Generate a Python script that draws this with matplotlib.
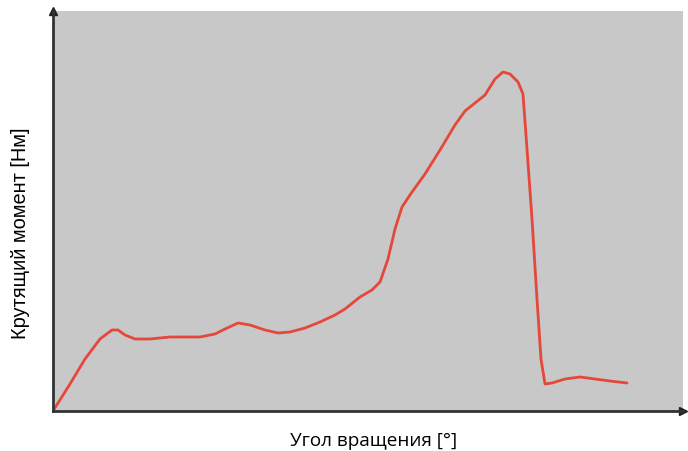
import matplotlib
matplotlib.use('Agg')
import matplotlib.pyplot as plt

# Кривая крутящего момента (единицы условные)
ugol = [0, 17, 32, 47, 59, 65, 72, 82, 97, 117, 147, 162, 172, 185, 197, 212,
        225, 237, 252, 267, 282, 292, 307, 319, 327, 335, 342, 349, 359, 372,
        387, 402, 412, 422, 432, 442, 450, 457, 465, 470, 474, 479, 484, 488,
        492, 499, 512, 527, 542, 557, 574]
moment = [0, 27, 52, 72, 81, 81, 76, 72, 72, 74, 74, 77, 82, 88, 86, 81,
          78, 79, 83, 89, 96, 102, 114, 121, 129, 152, 182, 204, 219, 237,
          261, 286, 300, 308, 316, 332, 339, 337, 329, 317, 262, 192, 112, 52,
          27, 28, 32, 34, 32, 30, 28]

fig = plt.figure(figsize=(6.88, 4.52), dpi=100)
ax = fig.add_axes([53 / 688, 40 / 452, 630 / 688, 400 / 452])
ax.set_facecolor('#c8c8c8')

ax.plot(ugol, moment, color='#e5473b', linewidth=2, solid_capstyle='round')

ax.set_xlim(0, 630)
ax.set_ylim(0, 400)
ax.set_xticks([])
ax.set_yticks([])
for s in ['top', 'right']:
    ax.spines[s].set_visible(False)
for s in ['left', 'bottom']:
    ax.spines[s].set_color('#333333')
    ax.spines[s].set_linewidth(2)

# стрелки на концах осей
ax.plot(1, 0, '>', color='#222222', markersize=6, transform=ax.transAxes, clip_on=False)
ax.plot(0, 1, '^', color='#222222', markersize=6, transform=ax.transAxes, clip_on=False)

ax.set_ylabel('Крутящий момент [Нм]', fontsize=14.4, family='Liberation Sans',
              va='center')
ax.yaxis.set_label_coords(-0.051, 0.4475)
ax.set_xlabel('Угол вращения [°]', fontsize=13.6, family='Open Sans', va='center')
ax.xaxis.set_label_coords(0.5095, -0.072)

plt.savefig('out.png', dpi=100)
